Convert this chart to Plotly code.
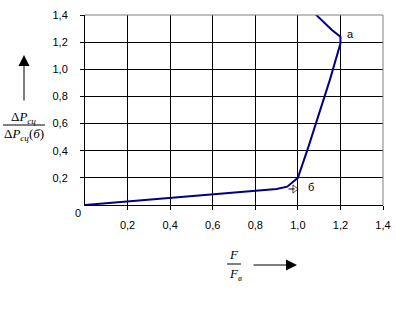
import plotly.graph_objects as go

# data
curve_x = [0, 0.2, 0.4, 0.6, 0.8, 0.9, 0.95, 1.0, 1.05, 1.1, 1.15, 1.2, 1.2, 1.16, 1.12, 1.08]
curve_y = [0, 0.026, 0.052, 0.077, 0.1, 0.118, 0.135, 0.2, 0.43, 0.67, 0.92, 1.19, 1.24, 1.29, 1.35, 1.41]
tick_vals = [0.2, 0.4, 0.6, 0.8, 1.0, 1.2, 1.4]
tick_text = ["0,2", "0,4", "0,6", "0,8", "1,0", "1,2", "1,4"]
pointer_x = [0.955, 0.985]
pointer_y = [0.118, 0.118]
label_a = (1.245, 1.26, "a")
label_b = (1.06, 0.13, "б")

W, H = 396, 314
L, R, T, B = 85, 13, 15, 109
pw, ph = W - L - R, H - T - B


def px(x):
    return (x - L) / pw


def py(y):
    return (H - B - y) / ph


fig = go.Figure()
fig.add_trace(go.Scatter(x=curve_x, y=curve_y, mode="lines",
                         line=dict(color="#000080", width=2), hoverinfo="skip"))
fig.add_trace(go.Scatter(x=pointer_x, y=pointer_y, mode="lines+markers",
                         line=dict(color="black", width=1),
                         marker=dict(symbol=["line-ew", "triangle-right-open"], size=[1, 7],
                                     color="black", line=dict(width=1)),
                         hoverinfo="skip"))

tickfont = dict(family="Liberation Sans", size=11, color="black")
fig.update_xaxes(range=[0, 1.4], tickvals=tick_vals, ticktext=tick_text,
                 showgrid=True, gridcolor="black", gridwidth=1,
                 showline=True, linecolor="black", linewidth=1,
                 ticks="outside", ticklen=4, tickcolor="black", automargin=False,
                 ticklabelstandoff=6, tickfont=tickfont, zeroline=False)
fig.update_yaxes(range=[0, 1.4], tickvals=tick_vals, ticktext=tick_text,
                 showgrid=True, gridcolor="black", gridwidth=1,
                 showline=True, linecolor="black", linewidth=1,
                 ticks="outside", ticklen=4, tickcolor="black", automargin=False,
                 ticklabelstandoff=10, tickfont=tickfont, zeroline=False)

shapes = [
    dict(type="line", xref="paper", yref="paper", x0=0, x1=1, y0=1, y1=1,
         line=dict(color="#808080", width=1), layer="above"),
    dict(type="line", xref="paper", yref="paper", x0=1, x1=1, y0=0, y1=1,
         line=dict(color="#808080", width=1), layer="above"),
    # fraction bars
    dict(type="line", xref="paper", yref="paper", x0=px(3), x1=px(45), y0=py(125), y1=py(125),
         line=dict(color="black", width=1)),
    dict(type="line", xref="paper", yref="paper", x0=px(227), x1=px(241), y0=py(264), y1=py(264),
         line=dict(color="black", width=1)),
]

serif = dict(family="Liberation Serif", size=13, color="black")
C = dict(xanchor="center", yanchor="middle", showarrow=False)
ann = [
    dict(x=px(78), y=py(213), xref="paper", yref="paper", text="0", font=tickfont, **C),
    dict(x=label_a[0], y=label_a[1], text=label_a[2], font=tickfont, **C),
    dict(x=label_b[0], y=label_b[1], text=label_b[2], font=tickfont, **C),
    dict(x=px(23), y=py(117), xref="paper", yref="paper", font=serif,
         text="Δ<i>P</i><sub><i>сц</i></sub>", **C),
    dict(x=px(24), y=py(134), xref="paper", yref="paper", font=serif,
         text="Δ<i>P</i><sub><i>сц</i></sub>(<i>б</i>)", **C),
    dict(x=px(234), y=py(254), xref="paper", yref="paper", font=serif,
         text="<i>F</i>", **C),
    dict(x=px(235), y=py(274), xref="paper", yref="paper", font=serif,
         text="<i>F</i><sub><i>в</i></sub>", **C),
    dict(x=px(24), y=py(55), xref="paper", yref="paper", ax=0, ay=47,
         text="", showarrow=True, arrowhead=2,
         arrowsize=2.2, arrowwidth=1, arrowcolor="black"),
    dict(x=px(297), y=py(265), xref="paper", yref="paper", ax=-45, ay=0,
         text="", showarrow=True, arrowhead=2,
         arrowsize=2.2, arrowwidth=1, arrowcolor="black"),
]

fig.update_layout(width=W, height=H, margin=dict(l=L, r=R, t=T, b=B),
                  paper_bgcolor="white", plot_bgcolor="white", showlegend=False,
                  shapes=shapes, annotations=ann)
fig.write_html("out.html")
